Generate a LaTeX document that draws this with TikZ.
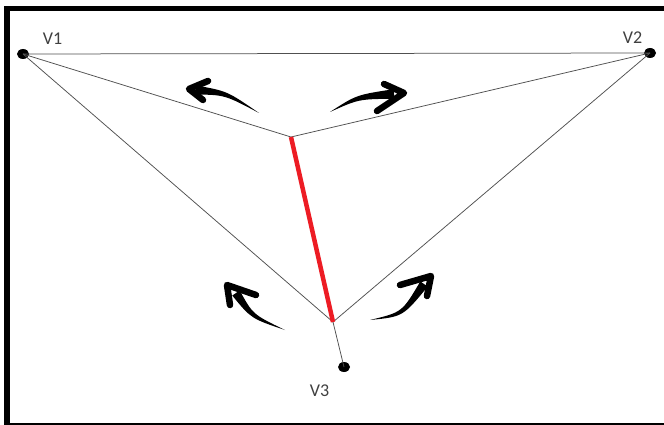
\documentclass[tikz,border=0pt]{standalone}
\usepackage{fontspec}
\setmainfont{Carlito}
\usetikzlibrary{calc,shapes.geometric}
\definecolor{paintred}{RGB}{237,28,36}
\definecolor{edgegray}{RGB}{80,80,80}
\definecolor{labelgray}{RGB}{64,64,64}
\tikzset{
  vdot/.style={ellipse,fill=black,minimum width=12pt,minimum height=10pt,inner sep=0pt},
  vlabel/.style={font=\fontsize{18}{18}\selectfont,text=labelgray,inner sep=0pt},
  edge/.style={draw=edgegray,line width=0.75pt},
  redge/.style={draw=paintred,line width=4.5pt},
  armstyle/.style={line width=6.5pt,line cap=round,line join=round,black},
}
\newcommand{\brusharrow}[7]{%
  % #1 tip, #2 arm1, #3 arm2, #4 shaft base, #5 control, #6 tail, #7 half width
  \fill[black] ($#4!#7!90:#5$) .. controls ($#5!0.5*#7!90:#6$) .. #6
     .. controls ($#5!0.5*#7!-90:#6$) .. ($#4!#7!-90:#5$) -- cycle;
  \draw[armstyle] #2 -- #1 -- #3;
}
\begin{document}
\begin{tikzpicture}[x=1pt,y=-1pt]
\useasboundingbox (0,0) rectangle (664,425);
\fill[white] (0,0) rectangle (664,425);
% frame
\fill[black] (4,6) rectangle (664,11);
\fill[black] (4,6) rectangle (10,424.5);
\fill[black] (4,423.3) rectangle (664,424.8);
% vertices
\node[vdot] (v1) at (23,54) {};
\node[vdot] (v2) at (650,53) {};
\node[vdot] (v3) at (344,367) {};
\coordinate (a) at (291,137);
\coordinate (b) at (333,322);
\node[vlabel] (l1) at (52.5,39) {V1};
\node[vlabel] (l2) at (632.5,37.5) {V2};
\node[vlabel] (l3) at (319.5,391) {V3};
% edges
\draw[edge] (v1.center) -- (v2.center);
\draw[edge] (v1.center) -- (a) -- (v2.center);
\draw[edge] (v1.center) -- (b) -- (v2.center);
\draw[edge] (b) -- (v3.center);
\draw[redge] (a) -- (b);
% arrows
\brusharrow{(189,89)}{(208,81)}{(203,100)}{(196,90)}{(226,93)}{(259,113)}{4.5pt}
\brusharrow{(404,93)}{(384,84)}{(377,111)}{(394,94)}{(357.5,97)}{(330,112)}{4.8pt}
\brusharrow{(227,285)}{(256,295)}{(230,305)}{(236,293)}{(252,316.5)}{(285,330)}{4.5pt}
\brusharrow{(431,276)}{(400,285)}{(427,296)}{(424,284)}{(402.5,314.5)}{(370,320)}{4.5pt}
\end{tikzpicture}
\end{document}
